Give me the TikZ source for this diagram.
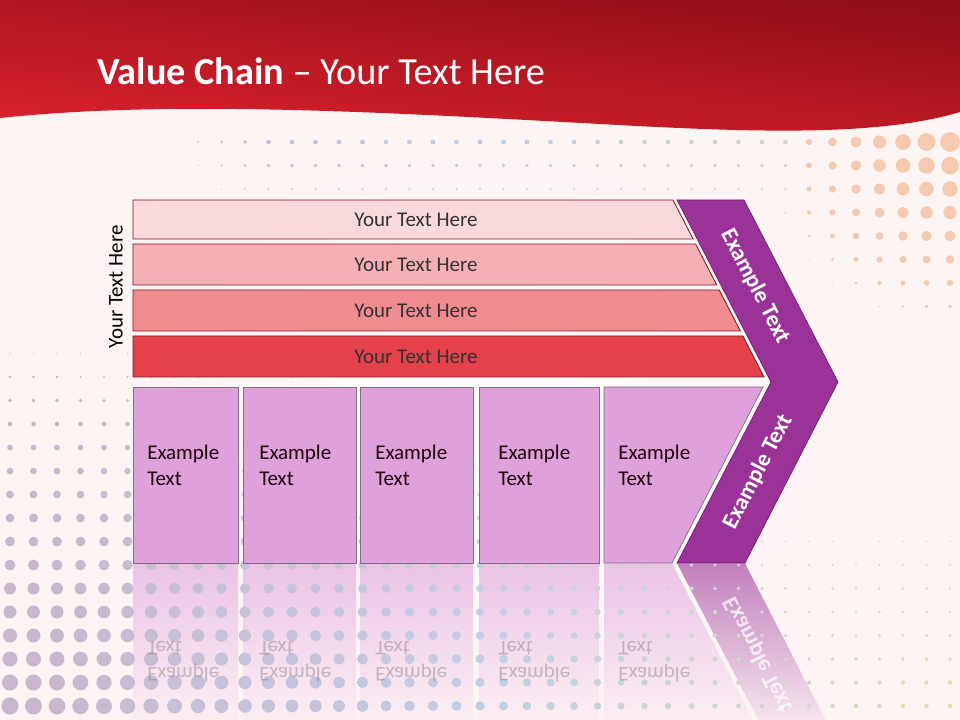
\documentclass[tikz,border=0pt]{standalone}
\usepackage{fontspec}
\setmainfont{Carlito}

\definecolor{bgpink}{RGB}{253,244,244}
\definecolor{hdrdark}{RGB}{145,14,22}
\definecolor{hdrlight}{RGB}{218,34,46}
\definecolor{barA}{RGB}{249,217,220}
\definecolor{barB}{RGB}{244,176,180}
\definecolor{barC}{RGB}{240,140,144}
\definecolor{barD}{RGB}{229,65,74}
\definecolor{barline}{RGB}{140,20,30}
\definecolor{boxfill}{RGB}{222,161,220}
\definecolor{boxline}{RGB}{130,110,130}
\definecolor{chevfill}{RGB}{154,50,152}
\definecolor{chevline}{RGB}{110,30,110}
\definecolor{dotL}{RGB}{200,182,204}
\definecolor{dotB}{RGB}{194,206,230}
\definecolor{dotR}{RGB}{220,226,182}
\definecolor{dotP}{RGB}{246,202,176}

\tikzset{
  bar/.style={draw=barline, line width=0.6pt},
  barlabel/.style={text=black!80, font=\fontsize{14.9}{18}\selectfont},
  box/.style={fill=boxfill, draw=boxline, line width=0.5pt},
  boxlabel/.style={text=black!85!purple, inner sep=0, anchor=west, align=left,
    font=\fontsize{14.9}{18.6}\selectfont},
  chev/.style={fill=chevfill, draw=chevline, line width=0.5pt},
  chevlabel/.style={text=white, font=\bfseries\fontsize{16.4}{19}\selectfont},
  mirror/.style={yshift=-28.15cm, yscale=-1}
}

\begin{document}
\begin{tikzpicture}[x=0.025cm, y=-0.025cm]
  \useasboundingbox (0,0) rectangle (960,720);
  \clip (0,0) rectangle (960,720);
  % Page background with a pale glow in the middle.
  \fill[bgpink] (0,0) rectangle (960,720);
  \shade[inner color=white, outer color=bgpink] (480,420) ellipse (360 and 280);

  % Reflection of the lower row, fading out downwards.
  \begin{scope}[mirror]
    \foreach \xl/\xr in {133/238, 243/356, 360/473, 479/599}{
      \shade[bottom color=bgpink, middle color=boxfill!25!bgpink, top color=boxfill!60!bgpink]
        (\xl,387) rectangle (\xr,563);
    }
    \shade[bottom color=bgpink, middle color=boxfill!25!bgpink, top color=boxfill!60!bgpink]
      (604,387) -- (763,387) -- (672,563) -- (604,563) -- cycle;
    \shade[bottom color=bgpink, middle color=chevfill!25!bgpink, top color=chevfill!60!bgpink]
      (771,382) -- (838,382) -- (745,563) -- (677,563) -- cycle;
  \end{scope}

  % Halftone dots.
  \foreach \i in {0,...,40}{
    \foreach \j in {0,...,24}{
      \pgfmathsetmacro\cx{10+23.5*\i}
      \pgfmathsetmacro\cy{142+23.5*\j}
      \pgfmathsetmacro\rl{9-100*sqrt((0.004*\cx)^2+(0.01*(725-\cy))^2)/45}
      \pgfmathsetmacro\rr{11-100*sqrt((0.01*(965-\cx))^2+(0.01*(\cy-125))^2)/20}
      \pgfmathsetmacro\rt{(2.4-(\cy-142)/40)*min(1,max(0,(\cx-150)/120))}
      \pgfmathsetmacro\rb{2.2-(700-\cy)/120}
      \pgfmathsetmacro\rd{max(\rl,\rr,\rt,\rb)}
      \pgfmathtruncatemacro\dotmix{\cx/9.6}
      \pgfmathtruncatemacro\peach{and(\rr>\rl, \rr>\rt) ? 1 : 0}
      \pgfmathtruncatemacro\dotvis{\rd>0.4 ? 1 : 0}
      \ifnum\dotvis=1
        \ifnum\peach=1 \def\dc{dotP}%
        \else\ifnum\dotmix<50 \pgfmathtruncatemacro\dm{2*\dotmix}\def\dc{dotB!\dm!dotL}%
        \else \pgfmathtruncatemacro\dm{2*\dotmix-100}\def\dc{dotR!\dm!dotB}\fi\fi
        \fill[\dc] (\cx,\cy) circle (\rd);
      \fi
    }
  }

  % Mirrored labels of the reflection.
  \begin{scope}[mirror]
    \foreach \tx/\nm in {147/one, 259/two, 375/three, 498/four, 618/five}{
      \node[boxlabel, transform shape, text=black!55, text opacity=.4] (refl-\nm) at (\tx,465) {Example\\Text};
    }
    \node[chevlabel, rotate=62.7, transform shape, text opacity=.7] (refl-chev) at (758,472) {Example Text};
  \end{scope}

  % Red header with a wavy lower edge.
  \shade[top color=hdrdark, bottom color=hdrlight, shading angle=-6]
    (0,0) -- (960,0) -- (960,112)
    .. controls (880,136) and (760,133) .. (600,124)
    .. controls (380,112) and (170,100) .. (0,118) -- cycle;
  \node[anchor=base west, text=white, inner sep=0, font=\fontsize{27.2}{32}\selectfont]
    (title) at (97,85) {\textbf{Value Chain} -- Your Text Here};

  % Side label.
  \node[rotate=90, text=black, font=\fontsize{14.9}{18}\selectfont] (side) at (116,287) {Your Text Here};

  % Stacked bars, cut along the chevron.
  \foreach \yt/\yb/\col/\nm in {200/239/barA/one, 244/285/barB/two, 290/331/barC/three, 336/377/barD/four}{
    \filldraw[bar, fill=\col] (133,\yt) -- ({673+0.514*(\yt-200)},\yt)
      -- ({673+0.514*(\yb-200)},\yb) -- (133,\yb) -- cycle;
    \node[barlabel] (bar-\nm) at (416,{(\yt+\yb)/2}) {Your Text Here};
  }

  % Lower row of boxes.
  \foreach \xl/\xr in {133/238, 243/356, 360/473, 479/599}{
    \filldraw[box] (\xl,387) rectangle (\xr,563);
  }
  \filldraw[box] (604,387) -- (763,387) -- (672,563) -- (604,563) -- cycle;
  \foreach \tx/\nm in {147/one, 259/two, 375/three, 498/four, 618/five}{
    \node[boxlabel] (box-\nm) at (\tx,465) {Example\\Text};
  }

  % Chevron.
  \filldraw[chev] (677,200) -- (744,200) -- (838,382) -- (745,563) -- (677,563) -- (771,382) -- cycle;
  \node[chevlabel, rotate=-62.7] (chev-up) at (755,286) {Example Text};
  \node[chevlabel, rotate=62.7] (chev-low) at (758,472) {Example Text};
\end{tikzpicture}
\end{document}
